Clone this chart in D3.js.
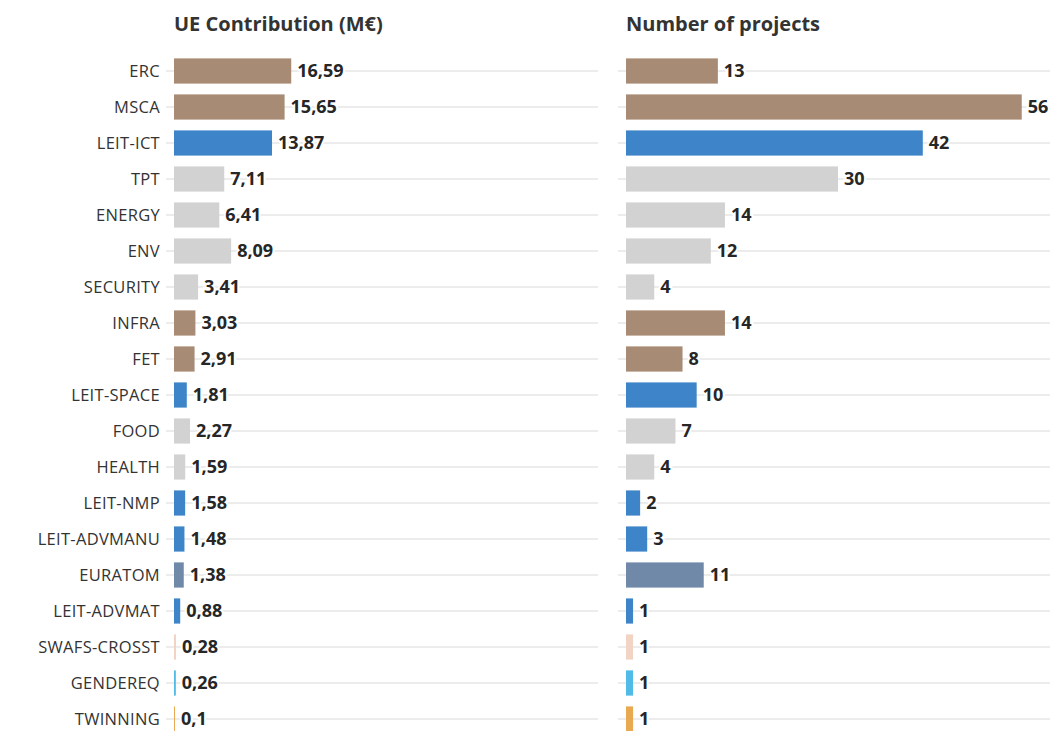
<!DOCTYPE html>
<html>
<head>
<meta charset="utf-8">
<script src="https://cdn.jsdelivr.net/npm/d3@7"></script>
<style>
  body { margin: 0; background: #fff; }
  text { font-family: "Open Sans", "Noto Sans", sans-serif; fill: #333; }
</style>
</head>
<body>
<div id="chart"></div>
<script>
var categories = ['ERC', 'MSCA', 'LEIT-ICT', 'TPT', 'ENERGY', 'ENV', 'SECURITY', 'INFRA', 'FET',
  'LEIT-SPACE', 'FOOD', 'HEALTH', 'LEIT-NMP', 'LEIT-ADVMANU', 'EURATOM', 'LEIT-ADVMAT',
  'SWAFS-CROSST', 'GENDEREQ', 'TWINNING'];
var contribution = [16.59, 15.65, 13.87, 7.11, 6.41, 8.09, 3.41, 3.03, 2.91, 1.81, 2.27, 1.59,
  1.58, 1.48, 1.38, 0.88, 0.28, 0.26, 0.1];
var projects = [13, 56, 42, 30, 14, 12, 4, 14, 8, 10, 7, 4, 2, 3, 11, 1, 1, 1, 1];
var groups = ['excellent', 'excellent', 'leit', 'societal', 'societal', 'societal', 'societal',
  'excellent', 'excellent', 'leit', 'societal', 'societal', 'leit', 'leit', 'euratom', 'leit',
  'swafs', 'gender', 'twinning'];
var titles = ['UE Contribution (M€)', 'Number of projects'];

var colors = {
  excellent: '#a78b75',
  leit: '#3d85c8',
  societal: '#d2d2d2',
  euratom: '#7189a8',
  swafs: '#f2d4c4',
  gender: '#4fbbe6',
  twinning: '#e9a950'
};

var chart_width = 1052;
var chart_height = 731;

var svg = d3.select('#chart')
  .append('svg')
  .attr('width', chart_width)
  .attr('height', chart_height);

// shared row scale
var yScale = d3.scaleBand()
  .domain(categories)
  .range([53, 737])
  .paddingInner(0.3)
  .paddingOuter(0.15);

var panels = [
  { title: titles[0], values: contribution, x0: 174, fmt: d3.format('.2~f') },
  { title: titles[1], values: projects, x0: 626, fmt: d3.format('d') }
];

var fmtComma = function (f) {
  return function (v) { return f(v).replace('.', ','); };
};

panels.forEach(function (p, pi) {
  var xScale = d3.scaleLinear()
    .domain([0, 60])
    .range([p.x0, p.x0 + 424]);

  var g = svg.append('g');

  g.append('text')
    .attr('x', p.x0)
    .attr('y', 31)
    .attr('font-size', 20)
    .attr('font-weight', 700)
    .text(p.title);

  // grid lines
  g.selectAll('line.grid')
    .data(categories)
    .enter()
    .append('line')
    .attr('class', 'grid')
    .attr('x1', p.x0 - 8)
    .attr('x2', xScale.range()[1])
    .attr('y1', d => yScale(d) + yScale.bandwidth() / 2)
    .attr('y2', d => yScale(d) + yScale.bandwidth() / 2)
    .attr('stroke', '#ececec')
    .attr('stroke-width', 2);

  g.selectAll('rect')
    .data(p.values)
    .enter()
    .append('rect')
    .attr('x', xScale(0))
    .attr('y', (d, i) => yScale(categories[i]))
    .attr('width', d => Math.max(1, xScale(d) - xScale(0)))
    .attr('height', yScale.bandwidth())
    .attr('fill', (d, i) => colors[groups[i]]);

  var f = fmtComma(p.fmt);
  g.selectAll('text.val')
    .data(p.values)
    .enter()
    .append('text')
    .attr('class', 'val')
    .attr('x', d => Math.max(xScale(d), xScale(0) + 1) + 6)
    .attr('y', (d, i) => yScale(categories[i]) + yScale.bandwidth() / 2)
    .attr('dy', '0.36em')
    .attr('font-size', 18)
    .attr('font-weight', 700)
    .attr('stroke', '#fff')
    .attr('stroke-width', 4)
    .attr('paint-order', 'stroke')
    .style('fill', '#262626')
    .text(d => f(d));

  if (pi === 0) {
    g.selectAll('text.cat')
      .data(categories)
      .enter()
      .append('text')
      .attr('class', 'cat')
      .attr('x', 160)
      .attr('y', d => yScale(d) + yScale.bandwidth() / 2)
      .attr('dy', '0.36em')
      .attr('text-anchor', 'end')
      .attr('font-size', 16.5)
      .attr('letter-spacing', 0.3)
      .text(d => d);
  }
});
</script>
</body>
</html>
